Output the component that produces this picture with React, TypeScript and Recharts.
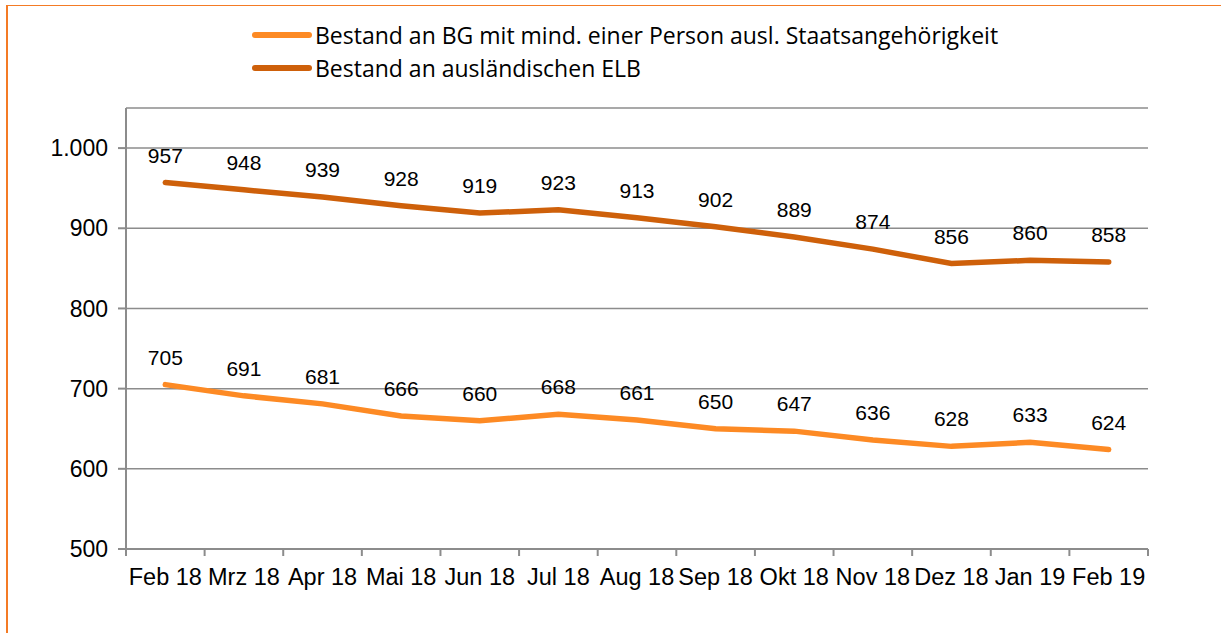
import { LineChart, Line, XAxis, YAxis, CartesianGrid, LabelList } from "recharts";

const months = [
  "Feb 18", "Mrz 18", "Apr 18", "Mai 18", "Jun 18", "Jul 18", "Aug 18",
  "Sep 18", "Okt 18", "Nov 18", "Dez 18", "Jan 19", "Feb 19",
];
const bgAusl = [705, 691, 681, 666, 660, 668, 661, 650, 647, 636, 628, 633, 624];
const elbAusl = [957, 948, 939, 928, 919, 923, 913, 902, 889, 874, 856, 860, 858];
const yTicks = [500, 600, 700, 800, 900, 1000];

const seriesNames = {
  bg: "Bestand an BG mit mind. einer Person ausl. Staatsangehörigkeit",
  elb: "Bestand an ausländischen ELB",
};

const data = months.map((m, i) => ({ month: m, bg: bgAusl[i], elb: elbAusl[i] }));

const W = 1221;
const H = 633;
const margin = { top: 108, right: 73, bottom: 54, left: 0 };
const yAxisWidth = 126;
const band = (W - margin.left - margin.right - yAxisWidth) / months.length;

const LIGHT = "#FD8A24";
const DARK = "#CE600A";
const GRID = "#8c8c8c";
const font = "'Liberation Sans', Arial, sans-serif";

const fmt = (v: number) => v.toLocaleString("de-DE");

function MonthTick(props: any) {
  const { x, y, payload, index } = props;
  return (
    <g>
      {index === 0 && <line x1={x - band / 2} x2={x - band / 2} y1={y} y2={y + 7} stroke={GRID} strokeWidth={2} />}
      <line x1={x + band / 2} x2={x + band / 2} y1={y} y2={y + 7} stroke={GRID} strokeWidth={2} />
      <text x={x} y={y + 36} textAnchor="middle" fontSize={23.5} fontFamily={font} fill="#000">
        {payload.value}
      </text>
    </g>
  );
}

function ChartLegend() {
  const items = [
    { name: seriesNames.bg, color: LIGHT },
    { name: seriesNames.elb, color: DARK },
  ];
  return (
    <div
      style={{
        position: "absolute",
        left: 252,
        top: 18,
        fontFamily: "'Open Sans', sans-serif",
        fontSize: 23,
        color: "#000",
        zIndex: 1,
        whiteSpace: "nowrap",
      }}
    >
      {items.map((it) => (
        <div key={it.name} style={{ display: "flex", alignItems: "center", height: 33 }}>
          <svg width={63} height={10}>
            <line x1={3} x2={57} y1={5} y2={5} stroke={it.color} strokeWidth={6} strokeLinecap="round" />
          </svg>
          <span>{it.name}</span>
        </div>
      ))}
    </div>
  );
}

export default function App() {
  return (
    <div style={{ position: "absolute", left: 0, top: 0, width: W, height: H, background: "#fff" }}>
      <div style={{ position: "absolute", left: 6, top: 5, right: 0, height: 1, background: "#F47B25" }} />
      <div style={{ position: "absolute", left: 6, top: 5, bottom: 0, width: 2, background: "#F47B25" }} />
      <ChartLegend />
      <LineChart width={W} height={H} data={data} margin={margin}>
        <CartesianGrid vertical={false} stroke={GRID} strokeWidth={1.5} />
        <XAxis
          dataKey="month"
          interval={0}
          height={30}
          padding={{ left: band / 2, right: band / 2 }}
          tickSize={0}
          tickMargin={0}
          tickLine={false}
          axisLine={{ stroke: GRID, strokeWidth: 2 }}
          tick={<MonthTick />}
        />
        <YAxis
          width={yAxisWidth}
          domain={[500, 1050]}
          ticks={yTicks}
          interval={0}
          tickSize={8}
          tickMargin={10}
          tickFormatter={fmt}
          axisLine={{ stroke: GRID, strokeWidth: 2 }}
          tickLine={{ stroke: GRID, strokeWidth: 2 }}
          tick={{ fontSize: 23, fontFamily: font, fill: "#000" }}
        />
        <Line
          dataKey="bg"
          name={seriesNames.bg}
          stroke={LIGHT}
          strokeWidth={5.5}
          strokeLinecap="round"
          dot={false}
          isAnimationActive={false}
        >
          <LabelList dataKey="bg" position="top" offset={20} fontSize={21} fontFamily={font} fill="#000" />
        </Line>
        <Line
          dataKey="elb"
          name={seriesNames.elb}
          stroke={DARK}
          strokeWidth={5.5}
          strokeLinecap="round"
          dot={false}
          isAnimationActive={false}
        >
          <LabelList dataKey="elb" position="top" offset={20} fontSize={21} fontFamily={font} fill="#000" />
        </Line>
      </LineChart>
    </div>
  );
}
